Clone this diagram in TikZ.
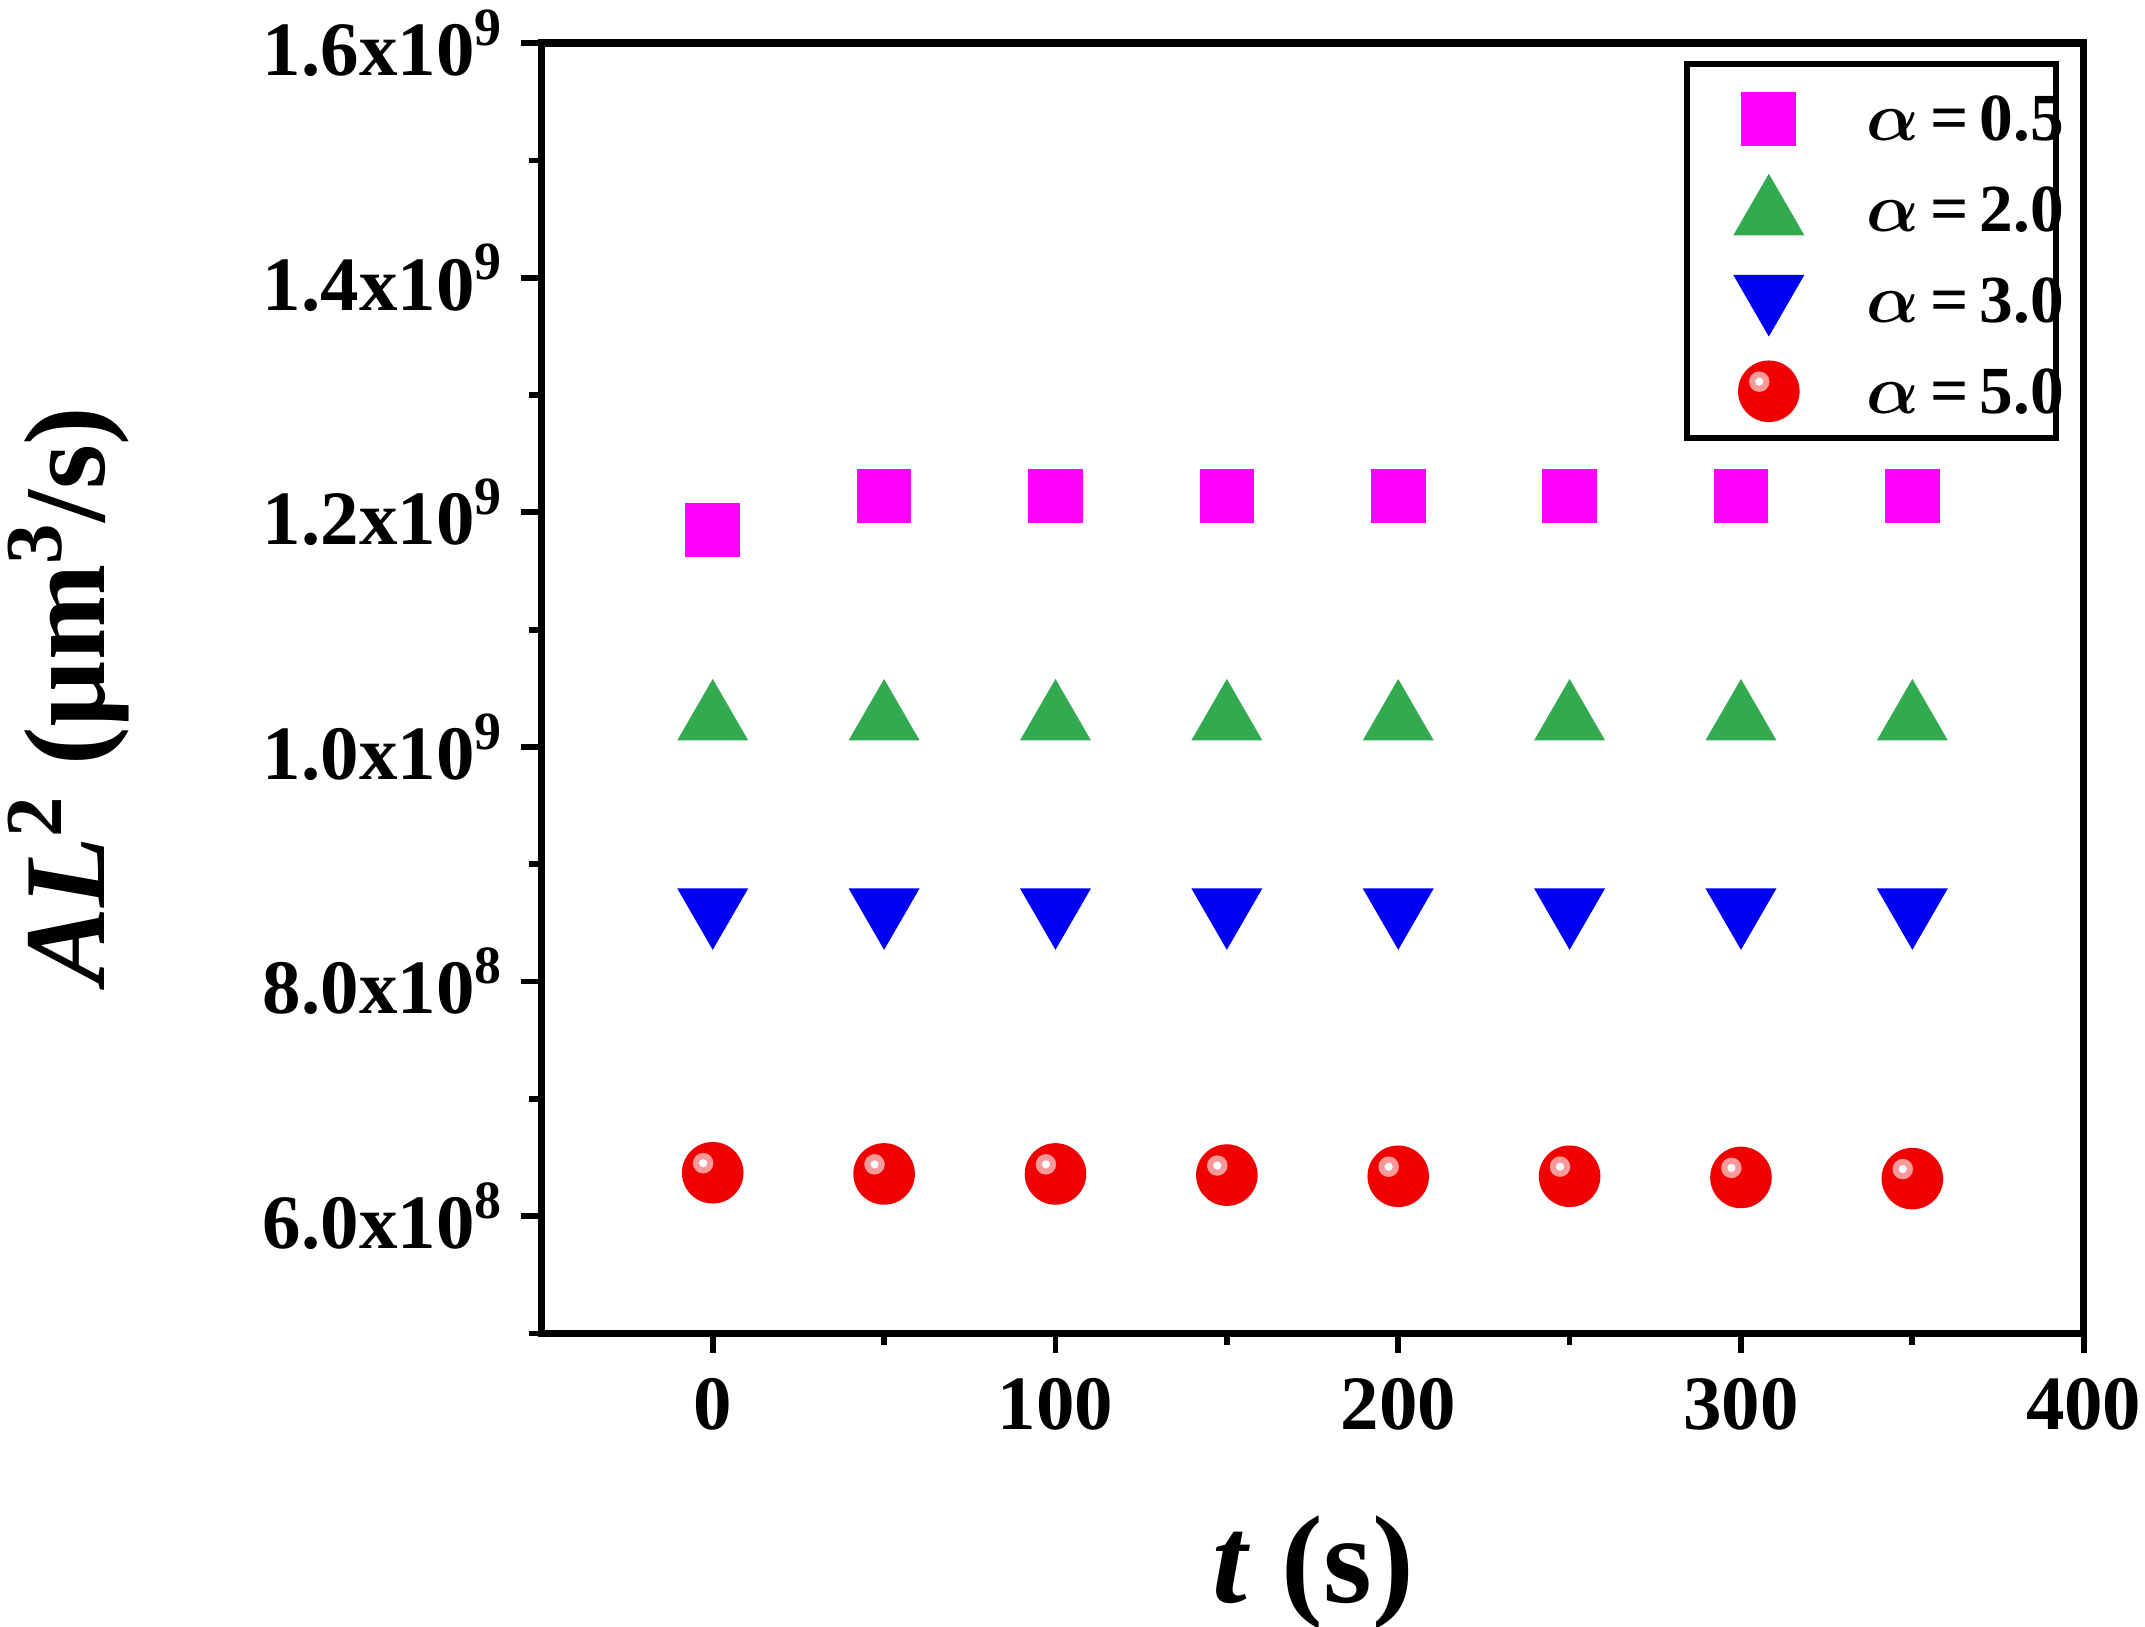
\documentclass[tikz,border=0pt]{standalone}
\usepackage{amsmath,bm}
\usepackage{fontspec}
\setmainfont{Liberation Serif}
\usetikzlibrary{calc,shapes.geometric}
\definecolor{sqcol}{RGB}{255,0,255}
\definecolor{upcol}{RGB}{50,170,80}
\definecolor{dncol}{RGB}{0,0,245}
\definecolor{balcol}{RGB}{240,0,0}
\tikzset{
  frame/.style = {line width = 1.5pt},
  tick/.style = {line width = 1.2pt},
  ticklab/.style = {font = \fontsize{16}{16}\selectfont\bfseries},
  sq/.style = {rectangle, fill = sqcol, minimum size = 0.4cm, inner sep = 0pt},
  up/.style = {isosceles triangle, isosceles triangle apex angle = 60, shape border rotate = 90,
    fill = upcol, minimum height = 0.45cm, inner sep = 0pt},
  dn/.style = {isosceles triangle, isosceles triangle apex angle = 60, shape border rotate = -90,
    fill = dncol, minimum height = 0.45cm, inner sep = 0pt},
  bal/.style = {circle, fill = balcol, minimum size = 0.45cm, inner sep = 0pt},
  legtext/.style = {font = \fontsize{14}{14}\selectfont\bfseries, anchor = west}
}
\newcommand{\ballspot}[1]{%
  \fill[white!60!balcol] ($(#1)+(-0.07cm,0.07cm)$) circle[radius = 0.075cm];
  \fill[white] ($(#1)+(-0.07cm,0.07cm)$) circle[radius = 0.03cm];
}
\begin{document}
\begin{tikzpicture}
  \useasboundingbox (0, 0) rectangle (15.68, 11.886);
  \begin{scope}[shift = {(5.21, 2.996)}, x = 0.02505cm, y = 0.8575cm]
    % frame
    \draw[frame] (-50, -1) rectangle (400, 10);
    % x ticks
    \foreach \t in {0, 100, ..., 400}{
      \draw[tick] (\t, -1) -- ++(0, -0.17);
      \node[ticklab] (xl\t) at (\t, -1.6) {\t};
    }
    \foreach \t in {50, 150, ..., 350}
      \draw[tick] (\t, -1) -- ++(0, -0.1);
    % y ticks
    \foreach \v/\m/\e in {0/6.0/8, 2/8.0/8, 4/1.0/9, 6/1.2/9, 8/1.4/9, 10/1.6/9}{
      \draw[tick] (-50, \v) -- ++(-6, 0);
      \node[ticklab, anchor = east] (yl\v) at (-56, \v) {\m x10$^{\mathbf{\e}}$};
    }
    \foreach \v in {-1, 1, 3, ..., 9}
      \draw[tick] (-50, \v) -- ++(-3.5, 0);
    % data
    \node[sq] (s0) at (0, 5.85) {};
    \foreach \t in {50, 100, ..., 350}
      \node[sq] (s\t) at (\t, 6.14) {};
    \foreach \t in {0, 50, ..., 350}{
      \node[up] (u\t) at (\t, 4.23) {};
      \node[dn] (d\t) at (\t, 2.62) {};
    }
    \foreach \t/\v in {0/0.37, 50/0.36, 100/0.36, 150/0.35, 200/0.34, 250/0.34, 300/0.33, 350/0.32}{
      \node[bal] (b\t) at (\t, \v) {};
      \ballspot{b\t}
    }
  \end{scope}
  % legend
  \draw[line width = 1.2pt] (12.33, 8.686) rectangle (15.03, 11.416);
  \node[sq] (lsq) at (12.93, 11.016) {};
  \node[up] (lup) at (12.93, 10.316) {};
  \node[dn] (ldn) at (12.93, 9.726) {};
  \node[bal] (lbal) at (12.93, 9.026) {};
  \ballspot{lbal}
  \node[legtext] (t1) at (13.52, 11.016) {$\bm{\alpha}$\,=\,0.5};
  \node[legtext] (t2) at (13.52, 10.356) {$\bm{\alpha}$\,=\,2.0};
  \node[legtext] (t3) at (13.52, 9.686) {$\bm{\alpha}$\,=\,3.0};
  \node[legtext] (t4) at (13.52, 9.026) {$\bm{\alpha}$\,=\,5.0};
  % axis titles
  \node[font = \fontsize{26}{26}\selectfont\bfseries] (xt) at (9.6, 0.39) {\textit{t} (s)};
  \node[font = \fontsize{24}{24}\selectfont\bfseries, rotate = 90] (yt) at (0.5, 6.8)
    {\textit{AL}$^{\mathbf{2}}$ (µm$^{\mathbf{3}}$/s)};
\end{tikzpicture}
\end{document}
